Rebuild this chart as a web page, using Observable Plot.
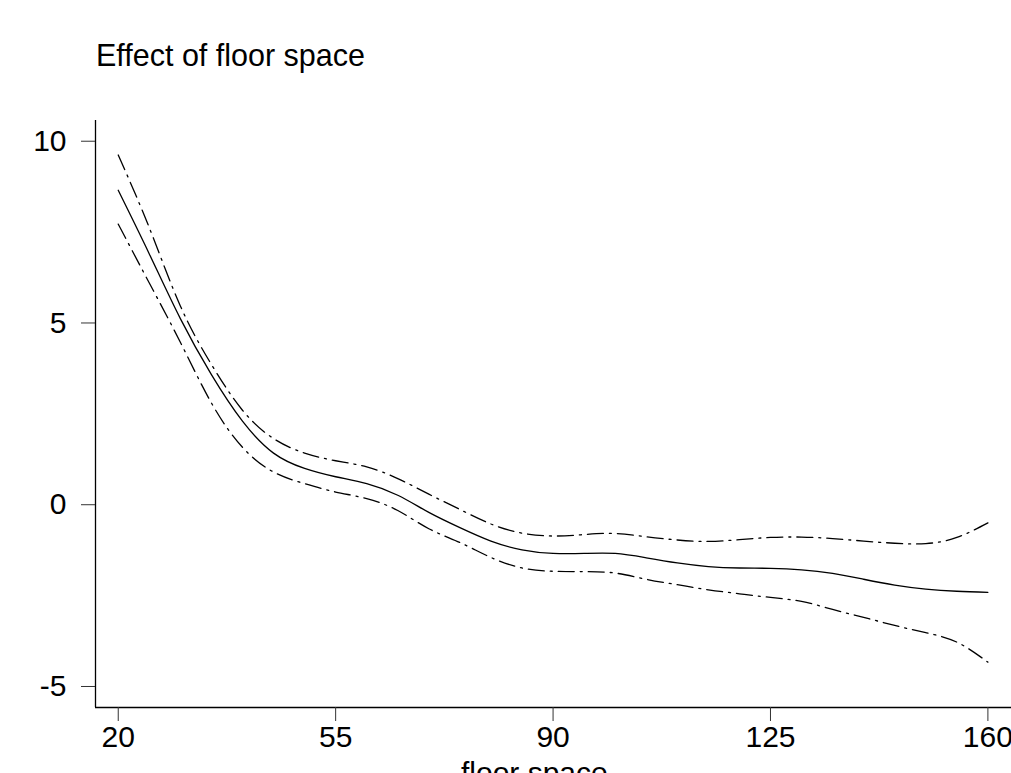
<!DOCTYPE html>
<html>
<head>
<meta charset="utf-8">
<script src="https://cdn.jsdelivr.net/npm/d3@7"></script>
<script src="https://cdn.jsdelivr.net/npm/@observablehq/plot@0.6"></script>
<style>
  html, body { margin: 0; padding: 0; background: #fff; overflow: hidden; }
  #title { position: relative; height: 100px; width: 1011px; font-family: "Liberation Sans", Arial, sans-serif; }
  #title span { position: absolute; left: 96px; top: 40px; font-size: 30.5px; line-height: 30px; color: #000; white-space: nowrap; }
</style>
</head>
<body>
<div id="title"><span>Effect of floor space</span></div>
<div id="chart"></div>
<script>
const floorSpace = [20,25,30,35,40,45,50,55,60,65,70,75,80,85,90,95,100,105,110,115,120,125,130,135,140,145,150,155,160];
const effect = [8.65,6.9,5.12,3.58,2.3,1.42,1.0,0.77,0.58,0.26,-0.21,-0.63,-1.0,-1.24,-1.34,-1.34,-1.34,-1.46,-1.6,-1.7,-1.74,-1.75,-1.79,-1.89,-2.05,-2.21,-2.32,-2.38,-2.41];
const upper = [9.62,7.62,5.47,3.86,2.6,1.82,1.42,1.21,1.04,0.72,0.29,-0.13,-0.53,-0.78,-0.86,-0.82,-0.79,-0.88,-0.97,-1.01,-0.96,-0.9,-0.89,-0.93,-1.0,-1.06,-1.07,-0.9,-0.5];
const lower = [7.72,6.1,4.47,2.8,1.58,0.9,0.58,0.35,0.17,-0.16,-0.66,-1.04,-1.45,-1.74,-1.83,-1.84,-1.88,-2.05,-2.2,-2.34,-2.45,-2.55,-2.66,-2.88,-3.1,-3.32,-3.52,-3.78,-4.33];
const xTicks = [20,55,90,125,160];
const yTicks = [-5,0,5,10];
const xDomain = [16.34,163.8];
const yDomain = [-5.578,10.57];

const rows = floorSpace.map((x,i) => ({x, mean: effect[i], hi: upper[i], lo: lower[i]}));
const dash = "16,6,2,6";

const chart = Plot.plot({
  width: 1011,
  height: 673,
  marginTop: 20,
  marginBottom: 66,
  marginLeft: 95,
  marginRight: 0,
  style: {fontFamily: "'Liberation Sans', Arial, sans-serif", fontSize: "30px", overflow: "visible", background: "#fff", color: "#000"},
  x: {domain: xDomain},
  y: {domain: yDomain},
  marks: [
    Plot.ruleX([xDomain[0]], {stroke: "#000", strokeWidth: 1.3}),
    Plot.ruleY([yDomain[0]], {stroke: "#000", strokeWidth: 1.3}),
    Plot.axisX({ticks: xTicks, tickSize: 14, tickPadding: 4, tickFormat: d => String(d), label: "floor space", labelAnchor: "center", labelOffset: 75, stroke: "#333"}),
    Plot.axisY({ticks: yTicks, tickSize: 14, tickPadding: 15, tickFormat: d => String(d), label: null, stroke: "#333"}),
    Plot.line(rows, {x: "x", y: "hi", stroke: "#000", strokeWidth: 1.3, strokeDasharray: dash, curve: "natural"}),
    Plot.line(rows, {x: "x", y: "mean", stroke: "#000", strokeWidth: 1.3, curve: "natural"}),
    Plot.line(rows, {x: "x", y: "lo", stroke: "#000", strokeWidth: 1.3, strokeDasharray: dash, curve: "natural"})
  ]
});
document.getElementById("chart").appendChild(chart);
</script>
</body>
</html>
